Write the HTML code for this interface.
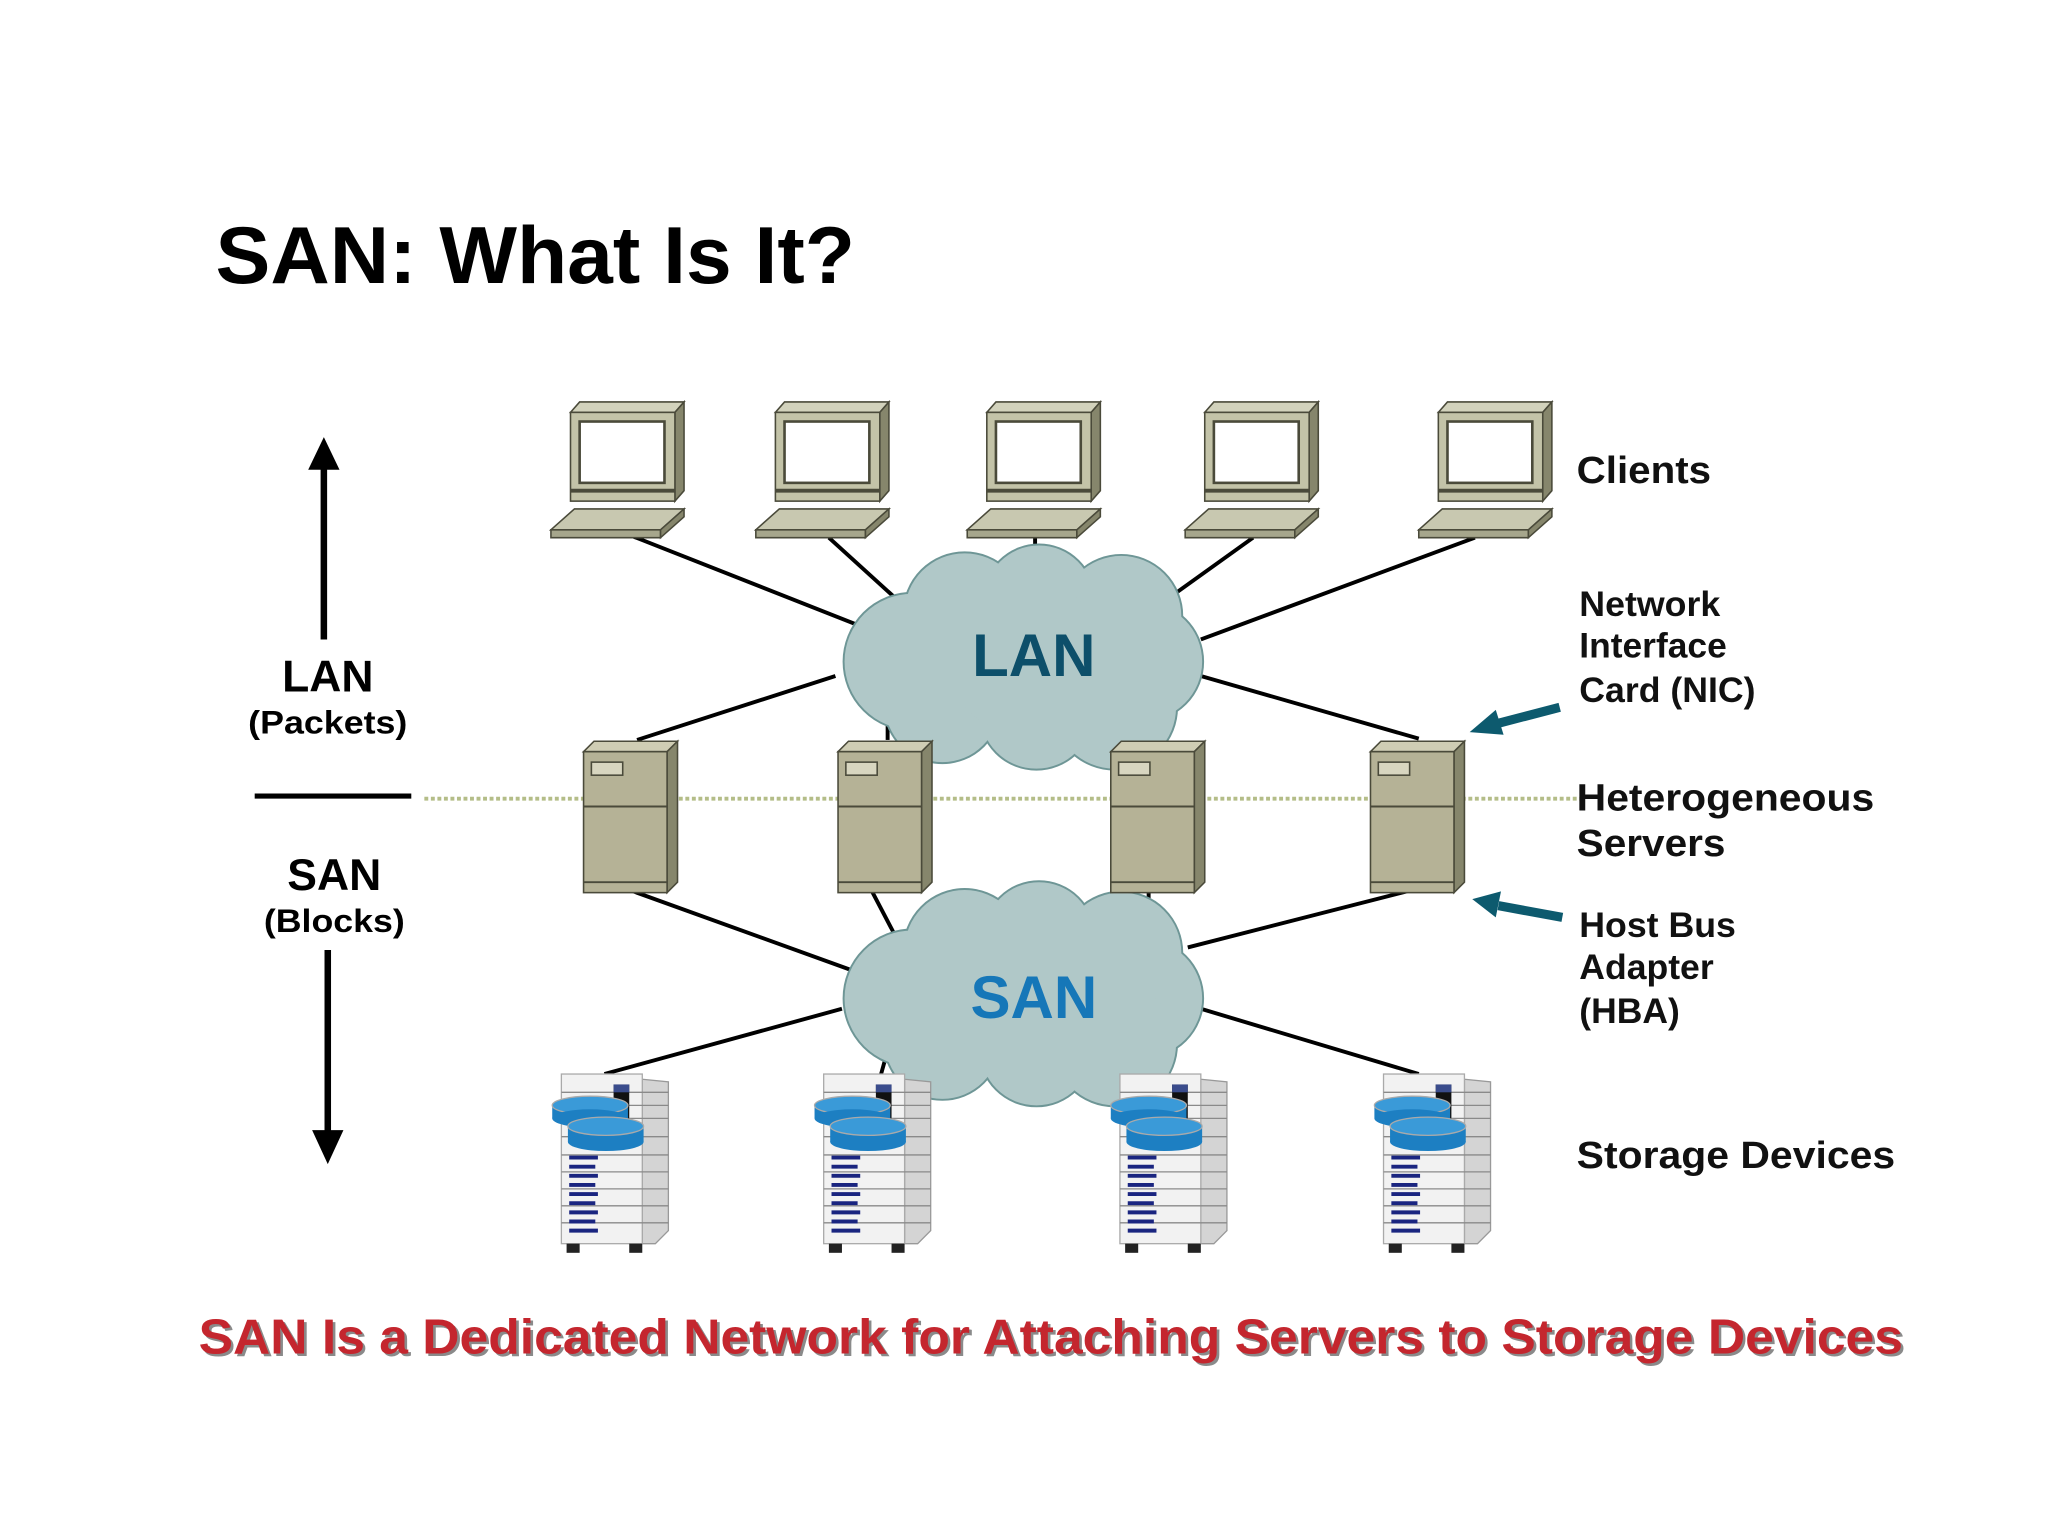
<!DOCTYPE html>
<html><head><meta charset="utf-8"><style>
html,body{margin:0;padding:0;background:#fff;}
svg{display:block;}
text{font-family:"Liberation Sans",Arial,sans-serif;font-weight:bold;}
</style></head><body>
<svg width="2048" height="1536" viewBox="0 0 1569 1177" xmlns="http://www.w3.org/2000/svg">
<defs>
<g id="laptop">
  <polygon points="15,8 22,0 102,0 95,8" fill="#d2d2bc" stroke="#4a4a3a" stroke-width="1.2"/>
  <polygon points="95,8 102,0 102,68 95,76" fill="#86866c" stroke="#4a4a3a" stroke-width="1.2"/>
  <rect x="15" y="8" width="80" height="68" fill="#c3c3a8" stroke="#4a4a3a" stroke-width="1.2"/>
  <rect x="22" y="15" width="65" height="47" fill="#fff" stroke="#4a4a3a" stroke-width="2"/>
  <line x1="15" y1="68" x2="95" y2="68" stroke="#4a4a3a" stroke-width="3"/>
  <polygon points="0,98 18,82 102,82 84,98" fill="#c8c8b0" stroke="#4a4a3a" stroke-width="1.2"/>
  <polygon points="0,98 84,98 84,104 0,104" fill="#a6a68c" stroke="#4a4a3a" stroke-width="1.2"/>
  <polygon points="84,98 102,82 102,88 84,104" fill="#86866c" stroke="#4a4a3a" stroke-width="1.2"/>
</g>
<g id="server">
  <polygon points="0,8 8,0 72,0 64,8" fill="#cfcdb4" stroke="#4a4a3a" stroke-width="1.2"/>
  <polygon points="64,8 72,0 72,108 64,116" fill="#86866c" stroke="#4a4a3a" stroke-width="1.2"/>
  <rect x="0" y="8" width="64" height="108" fill="#b5b296" stroke="#4a4a3a" stroke-width="1.2"/>
  <rect x="6" y="16" width="24" height="10" fill="#d8d6c0" stroke="#4a4a3a" stroke-width="1.2"/>
  <line x1="0" y1="50" x2="64" y2="50" stroke="#4a4a3a" stroke-width="1.5"/>
  <line x1="0" y1="108" x2="64" y2="108" stroke="#4a4a3a" stroke-width="1.5"/>
</g>
<g id="storage">
  <polygon points="70,4 90,6 90,120 80,130 70,130" fill="#d4d4d4" stroke="#999" stroke-width="1"/>
  <rect x="8" y="0" width="62" height="130" fill="#f2f2f2" stroke="#aaa" stroke-width="1"/>
  <g stroke="#8a8a8a" stroke-width="1">
    <line x1="8" y1="14" x2="90" y2="14"/><line x1="8" y1="24" x2="90" y2="24"/>
    <line x1="8" y1="34" x2="90" y2="34"/><line x1="8" y1="48" x2="90" y2="48"/>
    <line x1="8" y1="62" x2="90" y2="62"/><line x1="8" y1="75" x2="90" y2="75"/>
    <line x1="8" y1="88" x2="90" y2="88"/><line x1="8" y1="101" x2="90" y2="101"/>
    <line x1="8" y1="114" x2="90" y2="114"/>
  </g>
  <rect x="48" y="8" width="12" height="30" fill="#111"/>
  <rect x="48" y="8" width="12" height="6" fill="#3a4c8c"/>
  <rect x="1" y="24" width="58" height="10" fill="#1d7fc2"/>
  <ellipse cx="30" cy="24" rx="29" ry="7" fill="#3a9ad8" stroke="#aaa" stroke-width="1"/>
  <ellipse cx="30" cy="34" rx="29" ry="7" fill="#1d7fc2"/>
  <rect x="13" y="40" width="58" height="12" fill="#1d7fc2"/>
  <ellipse cx="42" cy="52" rx="29" ry="7" fill="#1d7fc2"/>
  <ellipse cx="42" cy="40" rx="29" ry="7" fill="#3a9ad8" stroke="#aaa" stroke-width="1"/>
  <g stroke="#1a2580" stroke-width="3">
    <line x1="14" y1="64" x2="36" y2="64"/><line x1="14" y1="71" x2="34" y2="71"/>
    <line x1="14" y1="78" x2="36" y2="78"/><line x1="14" y1="85" x2="34" y2="85"/>
    <line x1="14" y1="92" x2="36" y2="92"/><line x1="14" y1="99" x2="34" y2="99"/>
    <line x1="14" y1="106" x2="36" y2="106"/><line x1="14" y1="113" x2="34" y2="113"/>
    <line x1="14" y1="120" x2="36" y2="120"/>
  </g>
  <rect x="12" y="130" width="10" height="7" fill="#222"/>
  <rect x="60" y="130" width="10" height="7" fill="#222"/>
</g>
<g id="cloudS">
  <circle cx="-85" cy="5" r="52"/><circle cx="-45" cy="-32" r="46"/>
  <circle cx="12" cy="-42" r="42"/><circle cx="75" cy="-30" r="46"/>
  <circle cx="92" cy="5" r="45"/><circle cx="70" cy="40" r="47"/>
  <circle cx="10" cy="44" r="43"/><circle cx="-62" cy="38" r="44"/>
  <circle cx="0" cy="0" r="60"/>
</g>
</defs>

<text x="165" y="217" font-size="62" fill="#000" textLength="490" lengthAdjust="spacingAndGlyphs">SAN: What Is It?</text>

<g stroke="#000" stroke-width="3" fill="none">
  <line x1="467" y1="404" x2="665" y2="482"/>
  <line x1="635" y1="412" x2="690" y2="462"/>
  <line x1="793" y1="412" x2="793" y2="430"/>
  <line x1="960" y1="412" x2="900" y2="455"/>
  <line x1="1130" y1="412" x2="920" y2="490"/>
  <line x1="640" y1="518" x2="488" y2="567"/>
  <line x1="680" y1="545" x2="680" y2="567"/>
  <line x1="920" y1="518" x2="1087" y2="566"/>
  <line x1="485" y1="683" x2="665" y2="748"/>
  <line x1="668" y1="683" x2="690" y2="725"/>
  <line x1="880" y1="683" x2="880" y2="700"/>
  <line x1="1078" y1="683" x2="910" y2="726"/>
  <line x1="645" y1="773" x2="463" y2="823"/>
  <line x1="675" y1="823" x2="680" y2="805"/>
  <line x1="920" y1="773" x2="1087" y2="823"/>
</g>

<g transform="translate(784,502)">
  <use href="#cloudS" fill="#b0c8c8" stroke="#6e9696" stroke-width="3"/>
  <use href="#cloudS" fill="#b0c8c8"/>
  <text x="8" y="16" font-size="46" fill="#0d4f6a" text-anchor="middle">LAN</text>
</g>
<g transform="translate(784,760)">
  <use href="#cloudS" fill="#b0c8c8" stroke="#6e9696" stroke-width="3"/>
  <use href="#cloudS" fill="#b0c8c8"/>
  <text x="8" y="20" font-size="46" fill="#1677b8" text-anchor="middle">SAN</text>
</g>

<use href="#laptop" x="422" y="308"/>
<use href="#laptop" x="579" y="308"/>
<use href="#laptop" x="741" y="308"/>
<use href="#laptop" x="908" y="308"/>
<use href="#laptop" x="1087" y="308"/>

<line x1="325" y1="612" x2="1212" y2="612" stroke="#b4bd88" stroke-width="3" stroke-dasharray="3,2"/>

<use href="#server" x="447" y="568"/>
<use href="#server" x="642" y="568"/>
<use href="#server" x="851" y="568"/>
<use href="#server" x="1050" y="568"/>

<use href="#storage" x="422" y="823"/>
<use href="#storage" x="623" y="823"/>
<use href="#storage" x="850" y="823"/>
<use href="#storage" x="1052" y="823"/>

<line x1="248" y1="490" x2="248" y2="355" stroke="#000" stroke-width="5"/>
<polygon points="236,360 248,335 260,360" fill="#000"/>
<text x="216" y="530" font-size="34" fill="#000" textLength="70" lengthAdjust="spacingAndGlyphs">LAN</text>
<text x="190" y="562" font-size="25" fill="#000" textLength="122" lengthAdjust="spacingAndGlyphs">(Packets)</text>
<line x1="195" y1="610" x2="315" y2="610" stroke="#000" stroke-width="4"/>
<text x="220" y="682" font-size="34" fill="#000" textLength="72" lengthAdjust="spacingAndGlyphs">SAN</text>
<text x="202" y="714" font-size="25" fill="#000" textLength="108" lengthAdjust="spacingAndGlyphs">(Blocks)</text>
<line x1="251" y1="728" x2="251" y2="870" stroke="#000" stroke-width="5"/>
<polygon points="239,866 251,892 263,866" fill="#000"/>

<g font-size="27" fill="#111" lengthAdjust="spacingAndGlyphs">
<text x="1208" y="370" font-size="29" textLength="103" lengthAdjust="spacingAndGlyphs">Clients</text>
<text x="1210" y="472" textLength="108" lengthAdjust="spacingAndGlyphs">Network</text>
<text x="1210" y="504" textLength="113" lengthAdjust="spacingAndGlyphs">Interface</text>
<text x="1210" y="538" textLength="135" lengthAdjust="spacingAndGlyphs">Card (NIC)</text>
<text x="1208" y="621" font-size="29" textLength="228" lengthAdjust="spacingAndGlyphs">Heterogeneous</text>
<text x="1208" y="656" font-size="29" textLength="114" lengthAdjust="spacingAndGlyphs">Servers</text>
<text x="1210" y="718" textLength="120" lengthAdjust="spacingAndGlyphs">Host Bus</text>
<text x="1210" y="750" textLength="103" lengthAdjust="spacingAndGlyphs">Adapter</text>
<text x="1210" y="784" textLength="77" lengthAdjust="spacingAndGlyphs">(HBA)</text>
<text x="1208" y="895" font-size="29" textLength="244" lengthAdjust="spacingAndGlyphs">Storage Devices</text>
</g>
<line x1="1195" y1="542" x2="1145" y2="555" stroke="#0d5a6e" stroke-width="7"/>
<polygon points="1126,561 1146,544 1152,563" fill="#0d5a6e"/>
<line x1="1197" y1="703" x2="1148" y2="694" stroke="#0d5a6e" stroke-width="7"/>
<polygon points="1128,689 1150,683 1146,703" fill="#0d5a6e"/>

<text x="154" y="1039" font-size="38" fill="#8a8a8a" textLength="1306" lengthAdjust="spacingAndGlyphs">SAN Is a Dedicated Network for Attaching Servers to Storage Devices</text>
<text x="152" y="1037" font-size="38" fill="#c4262e" textLength="1306" lengthAdjust="spacingAndGlyphs">SAN Is a Dedicated Network for Attaching Servers to Storage Devices</text>
</svg>
</body></html>
